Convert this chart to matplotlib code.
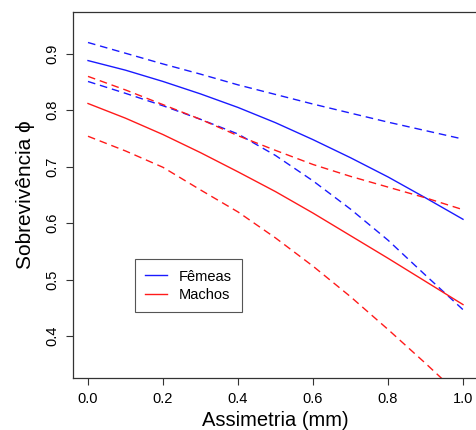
import matplotlib
matplotlib.use('Agg')
import matplotlib.pyplot as plt

plt.rcParams['font.family'] = ['Liberation Sans', 'DejaVu Sans']

# Asymmetry values (mm) where the curves were read
assimetria = [0.0, 0.1, 0.2, 0.3, 0.4, 0.5, 0.6, 0.7, 0.8, 0.9, 1.0]

# Females: fitted survival and confidence limits
femeas_fit = [0.888, 0.871, 0.851, 0.829, 0.805, 0.778, 0.748, 0.716, 0.682, 0.645, 0.607]
femeas_sup = [0.920, 0.901, 0.882, 0.864, 0.845, 0.828, 0.811, 0.795, 0.779, 0.764, 0.749]
femeas_inf = [0.851, 0.830, 0.808, 0.784, 0.758, 0.720, 0.675, 0.625, 0.570, 0.508, 0.447]

# Males: fitted survival and confidence limits
machos_fit = [0.812, 0.786, 0.757, 0.725, 0.691, 0.656, 0.618, 0.578, 0.538, 0.497, 0.456]
machos_sup = [0.860, 0.836, 0.810, 0.784, 0.755, 0.729, 0.704, 0.683, 0.664, 0.645, 0.624]
machos_inf = [0.754, 0.728, 0.699, 0.659, 0.620, 0.574, 0.524, 0.470, 0.412, 0.352, 0.290]

x_ticks = [0.0, 0.2, 0.4, 0.6, 0.8, 1.0]
y_ticks = [0.4, 0.5, 0.6, 0.7, 0.8, 0.9]

W, H = 476, 430
fig = plt.figure(figsize=(W / 100, H / 100), dpi=100)
# axes box runs slightly past the right edge, as in the cropped original
ax = fig.add_axes([73 / W, (H - 378) / H, 405 / W, 366 / H])

lw = 1.0
dash = (5.5, 3.5)
blue, red = '#1a1aff', '#ff1a1a'
ax.plot(assimetria, femeas_fit, color=blue, lw=lw, label='Fêmeas')
ax.plot(assimetria, femeas_sup, color=blue, lw=lw, dashes=dash)
ax.plot(assimetria, femeas_inf, color=blue, lw=lw, dashes=dash)
ax.plot(assimetria, machos_fit, color=red, lw=lw, label='Machos')
ax.plot(assimetria, machos_sup, color=red, lw=lw, dashes=dash)
ax.plot(assimetria, machos_inf, color=red, lw=lw, dashes=dash)

ax.set_xlim(-0.04, 1.04)
ax.set_ylim(0.326, 0.974)
ax.set_xticks(x_ticks)
ax.set_xticklabels([f'{v:.1f}' for v in x_ticks])
ax.set_yticks(y_ticks)
ax.set_yticklabels([f'{v:.1f}' for v in y_ticks], rotation=90, va='center')
ax.tick_params(direction='out', length=5, width=0.8, colors='#333333',
               labelsize=10.5, labelcolor='black', pad=5)

for s in ax.spines.values():
    s.set_color('#333333')
    s.set_linewidth(0.9)

ax.set_xlabel('Assimetria (mm)', fontsize=14.5, labelpad=4)
ax.set_ylabel('Sobrevivência \u03d5', fontsize=15, labelpad=7)

leg = ax.legend(loc='lower left', bbox_to_anchor=(0.153, 0.18), borderaxespad=0,
                fontsize=10.5, fancybox=False, edgecolor='#555555',
                handlelength=1.5, handletextpad=0.8, borderpad=0.7,
                labelspacing=0.3, framealpha=1)
leg.get_frame().set_linewidth(0.8)

fig.savefig('out.png', dpi=100)
